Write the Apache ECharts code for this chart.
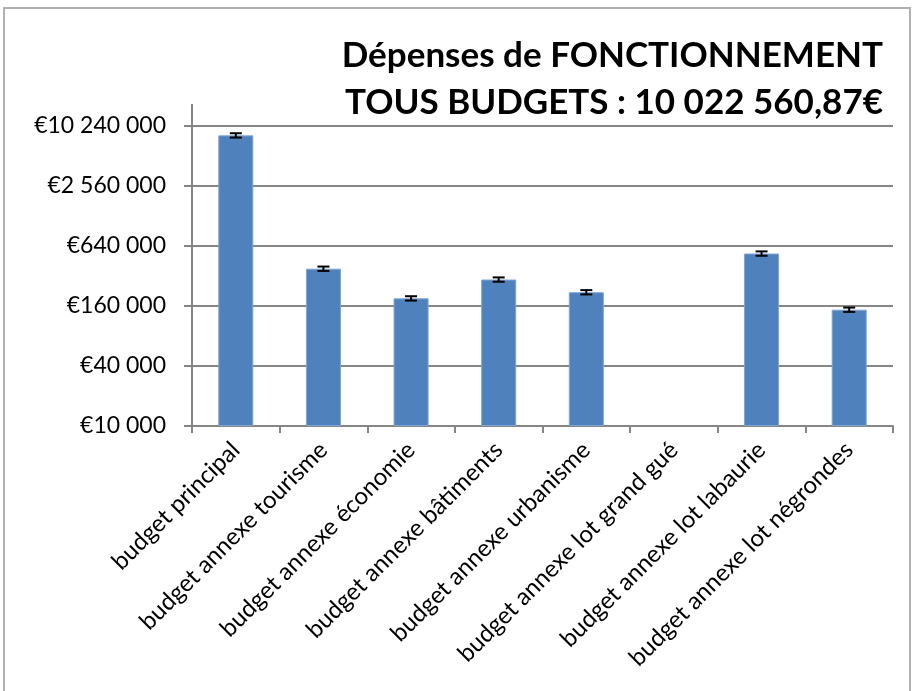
<!DOCTYPE html>
<html>
<head>
<meta charset="utf-8">
<title>Dépenses de fonctionnement</title>
<script src="https://cdn.jsdelivr.net/npm/echarts@6/dist/echarts.min.js"></script>
<style>
  html, body { margin: 0; padding: 0; background: #fff; }
  #main { width: 915px; height: 691px; }
</style>
</head>
<body>
<div id="main"></div>
<script>
// données (en euros)
var categories = [
  'budget principal',
  'budget annexe tourisme',
  'budget annexe économie',
  'budget annexe bâtiments',
  'budget annexe urbanisme',
  'budget annexe lot grand gué',
  'budget annexe lot labaurie',
  'budget annexe lot négrondes'
];
var depenses = [8250000, 379000, 191000, 295000, 220000, null, 538000, 147000];
var errorPct = 0.05; // barres d'erreur +/- 5 %
var yTicks = [10000, 40000, 160000, 640000, 2560000, 10240000];
var titres = ['Dépenses de FONCTIONNEMENT', 'TOUS BUDGETS : 10 022 560,87€'];

// l'axe log base 4 a ses graduations sur des puissances de 4 : on compte en unités de 10 000 €
var UNIT = yTicks[0];
var barData = depenses.map(function (v) { return v == null ? null : v / UNIT; });
var errData = [];
depenses.forEach(function (v, i) {
  if (v != null) errData.push([i, v * (1 - errorPct) / UNIT, v * (1 + errorPct) / UNIT]);
});

function euro(v) {
  var n = Math.round(v * UNIT).toString();
  return '€' + n.replace(/\B(?=(\d{3})+(?!\d))/g, ' ');
}

var myChart = echarts.init(document.getElementById('main'));
var titleStyle = { fontSize: 35, fontWeight: 'bold', color: '#000', fontFamily: 'Lato' };
var option = {
  animation: false,
  textStyle: { fontFamily: 'Lato' },
  title: [
    { text: titres[0], right: 32, top: 38, padding: 0, textStyle: titleStyle },
    { text: titres[1], right: 32, top: 85, padding: 0, textStyle: titleStyle }
  ],
  graphic: [
    { type: 'rect', shape: { x: 4, y: 8, width: 906, height: 700 }, style: { fill: 'none', stroke: '#b0b0b0', lineWidth: 2 }, z: -1 },
    { type: 'line', shape: { x1: 192, y1: 104, x2: 192, y2: 126 }, style: { stroke: '#868686', lineWidth: 2 } }
  ],
  grid: { left: 192, right: 22, top: 126, bottom: 265 },
  xAxis: {
    type: 'category',
    data: categories,
    axisLine: { lineStyle: { color: '#868686', width: 2 } },
    axisTick: { show: true, interval: 0, length: 7, lineStyle: { color: '#868686', width: 2 } },
    axisLabel: { interval: 0, rotate: 45, fontSize: 24, color: '#000', margin: 20 }
  },
  yAxis: {
    type: 'log',
    logBase: 4,
    min: 1,
    max: yTicks[yTicks.length - 1] / UNIT,
    splitNumber: 5,
    axisLine: { show: true, lineStyle: { color: '#868686', width: 2 } },
    axisTick: { show: true, length: 8, lineStyle: { color: '#868686', width: 2 } },
    splitLine: { show: true, lineStyle: { color: '#868686', width: 2 } },
    axisLabel: { fontSize: 23, color: '#000', margin: 26, formatter: euro }
  },
  series: [
    {
      type: 'bar',
      data: barData,
      barWidth: '40%',
      itemStyle: { color: '#4f81bd', borderColor: '#7fa6d6', borderWidth: 1 }
    },
    {
      type: 'custom',
      data: errData,
      z: 10,
      renderItem: function (params, api) {
        var lo = api.coord([api.value(0), api.value(1)]);
        var hi = api.coord([api.value(0), api.value(2)]);
        var w = 6;
        var st = { stroke: '#000', lineWidth: 2 };
        return {
          type: 'group',
          children: [
            { type: 'line', shape: { x1: lo[0], y1: lo[1], x2: hi[0], y2: hi[1] }, style: st },
            { type: 'line', shape: { x1: lo[0] - w, y1: lo[1], x2: lo[0] + w, y2: lo[1] }, style: st },
            { type: 'line', shape: { x1: hi[0] - w, y1: hi[1], x2: hi[0] + w, y2: hi[1] }, style: st }
          ]
        };
      }
    }
  ]
};
myChart.setOption(option);
</script>
</body>
</html>
